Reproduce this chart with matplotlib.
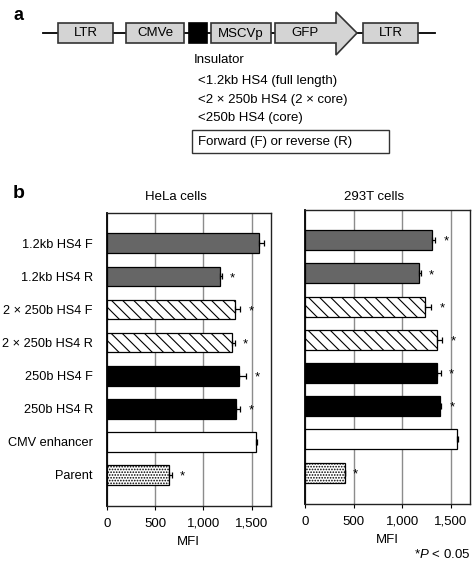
import matplotlib
matplotlib.use('Agg')
import matplotlib.pyplot as plt
from matplotlib.patches import Rectangle, Polygon

plt.rcParams['font.family'] = ['Liberation Sans', 'DejaVu Sans']
plt.rcParams['mathtext.fontset'] = 'custom'
plt.rcParams['mathtext.it'] = 'Liberation Sans:italic'
plt.rcParams['mathtext.rm'] = 'Liberation Sans'
plt.rcParams['hatch.linewidth'] = 0.8

# Data
labels = ['1.2kb HS4 F', '1.2kb HS4 R', '2 \u00d7 250b HS4 F', '2 \u00d7 250b HS4 R',
          '250b HS4 F', '250b HS4 R', 'CMV enhancer', 'Parent']
hela = [1573, 1171, 1326, 1295, 1367, 1340, 1546, 645]
hela_err = [48, 20, 55, 31, 76, 41, 10, 28]
hela_sig = [False, True, True, True, True, True, False, True]
t293 = [1303, 1170, 1228, 1361, 1358, 1382, 1560, 408]
t293_err = [35, 17, 69, 51, 36, 20, 7, 3]
t293_sig = [True, True, True, True, True, True, False, True]
xticks = [0, 500, 1000, 1500]
xticklabels = ['0', '500', '1,000', '1,500']

# bar styles per category
faces = ['#666666', '#666666', 'white', 'white', 'black', 'black', 'white', 'white']
hatches = [None, None, '\\\\\\', '\\\\\\', None, None, None, '......']

fig = plt.figure(figsize=(4.72, 5.64), dpi=100)

# ---- panel a: construct diagram (pixel coordinates) ----
ax0 = fig.add_axes([0, 0, 1, 1])
ax0.set_xlim(0, 472)
ax0.set_ylim(564, 0)
ax0.axis('off')

ax0.text(13, 15, 'a', fontsize=13, fontweight='bold', ha='left', va='center')
ax0.plot([43, 435], [33, 33], color='black', lw=1.3, zorder=1)
box_kw = dict(facecolor='#d4d4d4', edgecolor='#333333', lw=1.2, zorder=2)
for x0, x1, name in [(58, 113, 'LTR'), (126, 184, 'CMVe'), (211, 271, 'MSCVp'), (363, 418, 'LTR')]:
    ax0.add_patch(Rectangle((x0, 23), x1 - x0, 20, **box_kw))
    ax0.text((x0 + x1) / 2, 33.5, name, fontsize=9.5, ha='center', va='center', zorder=3)
ax0.add_patch(Rectangle((189, 23), 18, 20, facecolor='black', edgecolor='black', lw=1.2, zorder=2))
gfp = [(275, 23), (336, 23), (336, 12), (357, 33), (336, 55), (336, 43), (275, 43)]
ax0.add_patch(Polygon(gfp, closed=True, **box_kw))
ax0.text(305, 33.5, 'GFP', fontsize=9.5, ha='center', va='center', zorder=3)

ax0.text(194, 60, 'Insulator', fontsize=9.5, ha='left', va='center')
ax0.text(198, 81, '<1.2kb HS4 (full length)', fontsize=9.5, ha='left', va='center')
ax0.text(198, 99.5, '<2 \u00d7 250b HS4 (2 \u00d7 core)', fontsize=9.5, ha='left', va='center')
ax0.text(198, 118, '<250b HS4 (core)', fontsize=9.5, ha='left', va='center')
ax0.add_patch(Rectangle((192, 130), 197, 23, facecolor='white', edgecolor='#333333', lw=1.0))
ax0.text(198, 141.5, 'Forward (F) or reverse (R)', fontsize=9.5, ha='left', va='center')

ax0.text(13, 193, 'b', fontsize=14, fontweight='bold', ha='left', va='center')


# ---- panel b: bar charts ----
def panel(rect, values, errs, sig, title, show_labels, title_pad):
    ax = fig.add_axes(rect)
    ypos = list(range(len(values)))
    ax.barh(ypos, values, height=0.6, color=faces, hatch=hatches,
            edgecolor='black', linewidth=0.9, zorder=2)
    ax.errorbar(values, ypos, xerr=[[0] * len(errs), errs], fmt='none',
                ecolor='black', elinewidth=0.9, capsize=2.5, capthick=0.9, zorder=3)
    for y, v, e, s in zip(ypos, values, errs, sig):
        if s:
            ax.text(v + e + 110, y + 0.05, '*', fontsize=9.5, ha='center', va='center')
    ax.set_xlim(0, 1695)
    ax.set_ylim(7.93, -0.91)
    ax.set_xticks(xticks)
    ax.set_xticklabels(xticklabels, fontsize=9.5)
    ax.set_yticks(ypos)
    if show_labels:
        ax.set_yticklabels(labels, fontsize=9.2)
    else:
        ax.set_yticklabels([])
    ax.tick_params(axis='y', length=0, pad=10)
    ax.tick_params(axis='x', direction='out', length=3, pad=6, color='black')
    ax.xaxis.grid(True, color='#8c8c8c', lw=1.0)
    ax.set_axisbelow(True)
    for sp in ax.spines.values():
        sp.set_color('#222222')
        sp.set_linewidth(1.0)
    ax.spines['left'].set_color('black')
    ax.spines['left'].set_linewidth(1.3)
    ax.set_xlabel('MFI', fontsize=9.5, labelpad=4)
    ax.set_title(title, fontsize=9.5, x=0.42, pad=title_pad)
    return ax


panel([106.7 / 472, 1 - 505.5 / 564, 164 / 472, 292.2 / 564],
      hela, hela_err, hela_sig, 'HeLa cells', True, 9.7)
panel([305 / 472, 1 - 503.5 / 564, 165 / 472, 293.5 / 564],
      t293, t293_err, t293_sig, '293T cells', False, 7.5)

fig.text(470 / 472, 1 - 554 / 564, r'*$\it{P}$ < 0.05', fontsize=9.5, ha='right', va='center')

fig.savefig('out.png', dpi=100)
